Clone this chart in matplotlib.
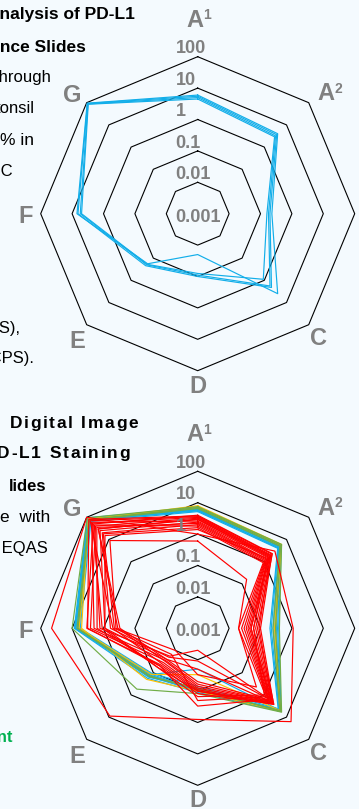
import numpy as np
import matplotlib
matplotlib.use("Agg")
import matplotlib.pyplot as plt
from matplotlib.font_manager import FontProperties

W, H, DPI = 359, 809, 100
FONT = "Liberation Sans"
BG = "#F4FAFE"
GREY = "#808080"

# spoke names, clockwise from the top (letter, superscript)
AXES = [("A", "1"), ("A", "2"), ("B", ""), ("C", ""), ("D", ""), ("E", ""),
        ("F", ""), ("G", "")]
RING_VALUES = [0.01, 0.1, 1, 10, 100]
SCALE_LABELS = ["100", "10", "1", "0.1", "0.01", "0.001"]
SCALE_VALUES = [100, 10, 1, 0.1, 0.01, 0.001]

# upper panel: reference slides read by the digital method
top_run1 = [6.0, 4.0, 0.23, 4.0, 0.02, 0.18, 7.0, 95]
top_run2 = [5.5, 3.6, 0.20, 2.1, 0.10, 0.22, 6.5, 92]
top_run3 = [5.0, 3.2, 0.18, 1.8, 0.09, 0.20, 5.5, 88]
top_run4 = [4.5, 2.9, 0.16, 0.9, 0.08, 0.19, 5.0, 85]

# lower panel: participant laboratories, grouped by outcome colour
blue_labs = [
    [7.0, 5.5, 0.35, 5.5, 0.10, 0.15, 8.0, 90],
    [6.5, 5.0, 0.30, 5.2, 0.09, 0.14, 7.5, 85],
    [6.0, 4.8, 0.28, 5.0, 0.10, 0.13, 7.0, 80],
    [5.5, 4.5, 0.25, 4.8, 0.02, 0.12, 6.5, 75],
    [6.2, 5.2, 0.32, 5.3, 0.08, 0.16, 7.8, 88],
    [5.8, 4.2, 0.22, 4.5, 0.09, 0.12, 6.0, 70],
    [6.8, 5.8, 0.38, 5.6, 0.11, 0.18, 8.5, 95],
    [5.2, 4.0, 0.20, 4.2, 0.07, 0.11, 5.5, 65],
]
yellow_labs = [
    [8.0, 6.0, 0.30, 5.0, 0.03, 0.12, 6.0, 80],
    [7.0, 5.5, 0.28, 5.4, 0.10, 0.20, 5.0, 85],
]
green_labs = [
    [7.5, 6.0, 0.40, 6.0, 0.12, 0.55, 10.0, 95],
    [7.0, 5.5, 0.30, 5.5, 0.08, 0.15, 7.0, 80],
    [6.5, 5.0, 0.25, 5.0, 0.09, 0.14, 6.5, 75],
]
red_labs = [
    [4.0, 2.3, 0.08, 2.7, 0.10, 0.045, 3.4, 50],
    [3.6, 2.0, 0.07, 2.4, 0.09, 0.040, 0.5, 70],
    [3.2, 1.8, 0.06, 2.2, 0.08, 0.035, 2.6, 40],
    [2.9, 1.6, 0.05, 2.0, 0.07, 0.030, 0.35, 30],
    [2.6, 1.5, 0.045, 1.9, 0.06, 0.028, 2.0, 60],
    [2.4, 1.3, 0.04, 1.7, 0.05, 0.025, 0.9, 25],
    [2.2, 1.2, 0.035, 1.6, 0.30, 0.050, 1.6, 35],
    [2.0, 1.1, 0.03, 1.5, 0.011, 0.020, 0.6, 20],
    [1.8, 1.0, 0.025, 1.4, 0.005, 0.018, 1.3, 45],
    [1.6, 0.9, 0.02, 1.2, 0.20, 0.015, 0.45, 18],
    [1.4, 1.4, 0.06, 1.0, 0.15, 0.060, 0.9, 15],
    [0.6, 0.16, 0.02, 0.44, 0.03, 0.010, 0.4, 9],
    [1.0, 3.0, 1.1, 16.0, 0.80, 9.0, 45.0, 100],
    [3.8, 2.2, 0.10, 2.6, 0.12, 0.050, 3.2, 80],
    [3.4, 1.9, 0.09, 2.3, 0.10, 0.060, 1.1, 55],
    [3.0, 1.7, 0.05, 2.1, 0.02, 0.025, 0.3, 30],
]

BLUE, RED, GREEN, YELLOW = "#12AEE9", "#FF0000", "#70AD47", "#FFC000"

CX = 197.7           # centre x of both radars (px)
CY_TOP, CY_BOT = 213.7, 628.3
R_PX = 157.0         # outer ring radius (px)
DECADES = 5.0        # 0.001 .. 100

plt.rcParams["font.family"] = [FONT, "DejaVu Sans"]
fig = plt.figure(figsize=(W / DPI, H / DPI), dpi=DPI, facecolor=BG)

theta = np.arange(len(AXES)) * 2 * np.pi / len(AXES)
theta_c = np.append(theta, theta[0])


def radius(vals):
    return np.log10(np.asarray(vals, dtype=float)) + 3.0


def closed(vals):
    r = radius(vals)
    return np.append(r, r[0])


# centre of each spoke label relative to the radar centre (px): x right, y up
LABEL_OFFSETS = [(-0.7, 187), (130.6, 113.7), (172, -9.6), (120.6, -131.3),
                 (0, -179.0), (-120.2, -134.6), (-171.7, -9.6), (-125.2, 112)]


def radar(cy, groups):
    ax = fig.add_axes([(CX - R_PX) / W, (H - cy - R_PX) / H,
                       2 * R_PX / W, 2 * R_PX / H], projection="polar")
    ax.set_theta_zero_location("N")
    ax.set_theta_direction(-1)
    ax.set_ylim(0, DECADES)
    ax.set_axis_off()

    for rv in RING_VALUES:
        ax.plot(theta_c, closed([rv] * len(AXES)), color="black", lw=0.8,
                clip_on=False, zorder=1)

    for series, color in groups:
        for s in series:
            ax.plot(theta_c, closed(s), color=color, lw=0.85, clip_on=False,
                    zorder=2)

    for (letter, sup), (dx, dy) in zip(AXES, LABEL_OFFSETS):
        if sup:
            # letter to the left of the centre point, superscript after it
            ax.annotate(letter, xy=(0, 0), xytext=(dx + 6, dy),
                        textcoords="offset pixels", ha="right", va="baseline",
                        fontsize=17, fontweight="bold", color=GREY,
                        annotation_clip=False)
            ax.annotate(sup, xy=(0, 0), xytext=(dx + 6, dy + 7.4),
                        textcoords="offset pixels", ha="left", va="baseline",
                        fontsize=10, fontweight="bold", color=GREY,
                        annotation_clip=False)
        else:
            ax.annotate(letter, xy=(0, 0), xytext=(dx, dy),
                        textcoords="offset pixels", ha="center", va="baseline",
                        fontsize=17, fontweight="bold", color=GREY,
                        annotation_clip=False)

    px_per_dec = R_PX / DECADES
    for lbl, v in zip(SCALE_LABELS, SCALE_VALUES):
        r = float(radius([v])[0])
        dy = r * px_per_dec + 3.4 if v > 0.001 else -8
        ax.annotate(lbl, xy=(0, 0), xytext=(-22, dy), textcoords="offset pixels",
                    ha="left", va="baseline", fontsize=13, fontweight="bold",
                    color=GREY, annotation_clip=False)
    return ax


radar(CY_TOP, [([top_run1, top_run2, top_run3, top_run4], BLUE)])
radar(CY_BOT, [(blue_labs, BLUE), (yellow_labs, YELLOW), (green_labs, GREEN),
               (red_labs, RED)])


def put(x_right, y_base, s, weight="normal", color="black", size=12):
    fig.text(x_right / W, 1 - y_base / H, s, ha="right", va="baseline",
             fontsize=size, fontweight=weight, color=color)


renderer = fig.canvas.get_renderer()


def tracked(x_right, y_base, s, track, weight="bold", size=12.5, color="black"):
    """Right-aligned text with extra letter spacing (justified look)."""
    prop = FontProperties(family=FONT, size=size, weight=weight)

    def advance(c):
        w1, _, _ = renderer.get_text_width_height_descent("x" + c + "x", prop, ismath=False)
        w0, _, _ = renderer.get_text_width_height_descent("xx", prop, ismath=False)
        return w1 - w0

    x = x_right
    for c in reversed(s):
        x -= advance(c)
        if c != " ":
            fig.text(x / W, 1 - y_base / H, c, ha="left", va="baseline",
                     fontsize=size, fontweight=weight, color=color)
        x -= track


# caption of the upper panel
put(135, 19.3, "Analysis of PD-L1", weight="bold", size=12.5)
put(86, 51.7, "Reference Slides", weight="bold", size=12.5)
put(52, 81.7, "through")
put(35, 113.3, "tonsil")
put(34, 145, "% in", size=12.5)
put(13, 176, "IHC")
put(20, 333, "(TPS),")
put(34, 363, "(CPS).")

# caption of the lower panel
tracked(138.3, 428.3, "Digital Image", 1.7)
tracked(130, 458.3, "PD-L1 Staining", 1.7)
put(46, 490.7, "lides", weight="bold")
put(50, 521.7, "e  with", size=12.5)
put(48, 553.3, "NordiQC EQAS")
put(13, 741.7, "Sufficient", weight="bold", color="#00B050")

fig.savefig("out.png", dpi=DPI, facecolor=BG)
